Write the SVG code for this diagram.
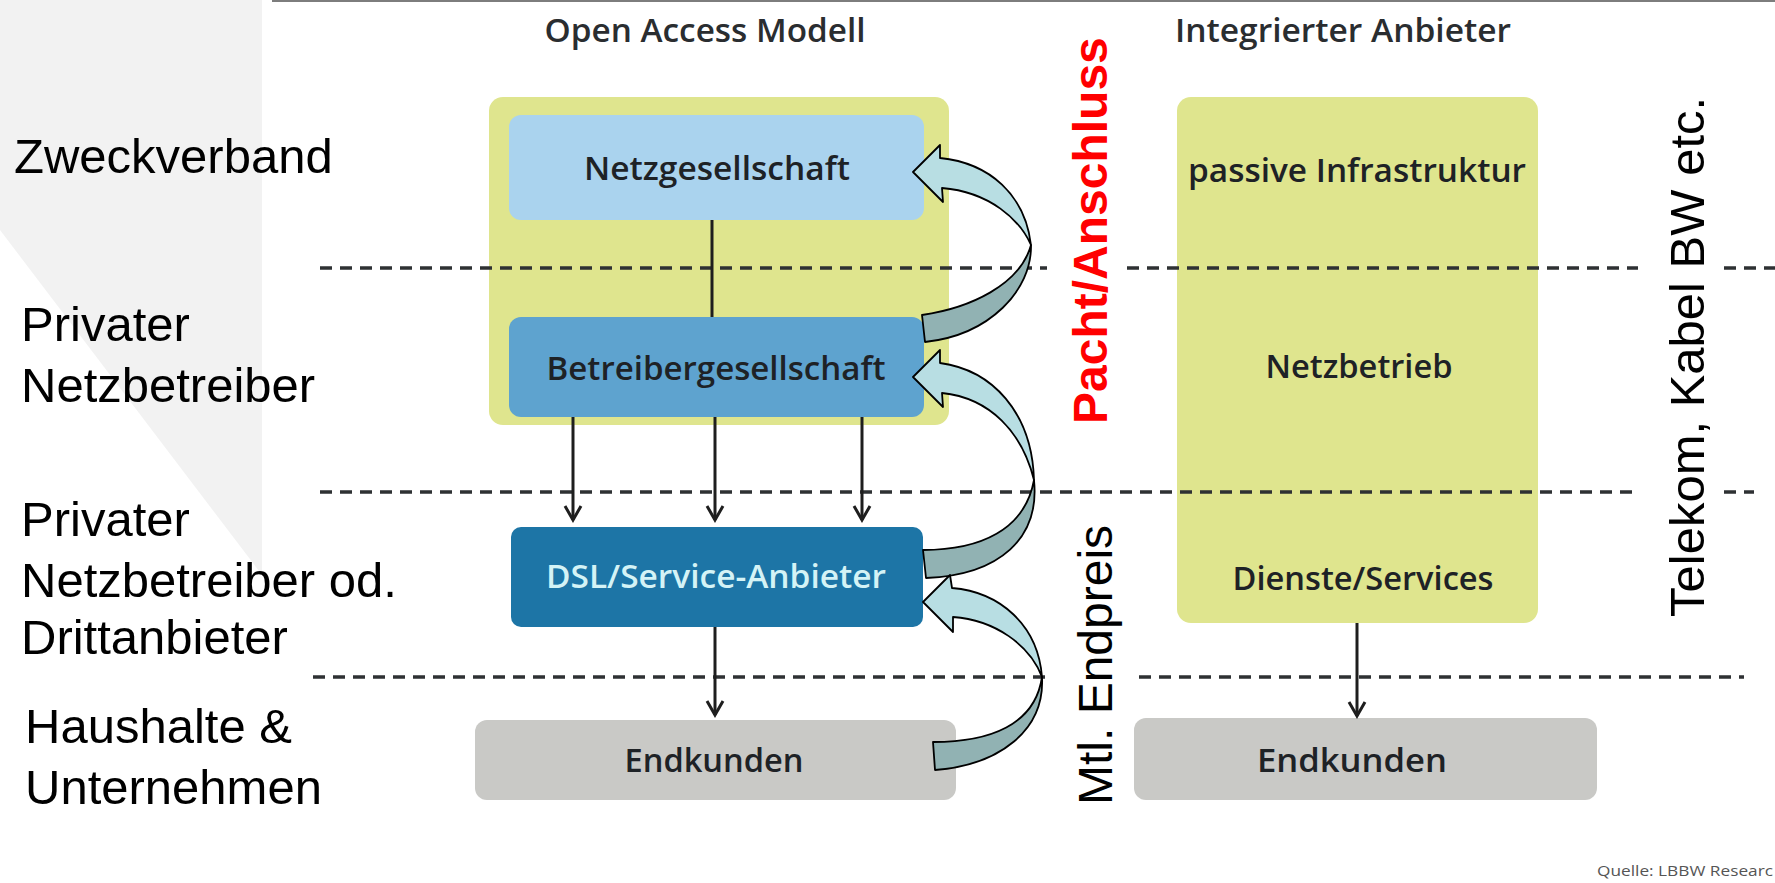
<svg xmlns="http://www.w3.org/2000/svg" width="1775" height="883" viewBox="0 0 1775 883">
<defs>
<style>
.lbl{font-family:"Liberation Sans",Arial,sans-serif;font-size:49px;fill:#000}
.box{font-family:"Open Sans","DejaVu Sans",sans-serif;font-weight:600;font-size:32px;fill:#1e2226;text-anchor:middle}
.hdr{font-family:"Open Sans","DejaVu Sans",sans-serif;font-weight:600;font-size:32px;fill:#2a2d30;text-anchor:middle}
.dash{stroke:#2e3133;stroke-width:3.5;stroke-dasharray:12 8;fill:none}
.conn{stroke:#1e1e1e;stroke-width:3;fill:none}
.light{fill:#b8dee3;stroke:#000;stroke-width:1.8;stroke-linejoin:round}
.dark{fill:#91b2b3;stroke:#000;stroke-width:1.8;stroke-linejoin:round}
</style>
<marker id="ah" viewBox="0 0 20 20" refX="17" refY="10" markerWidth="20" markerHeight="20" markerUnits="userSpaceOnUse" orient="auto">
<path d="M3,2 L17,10 L3,18" fill="none" stroke="#1e1e1e" stroke-width="3"/>
</marker>
</defs>
<rect x="0" y="0" width="1775" height="883" fill="#ffffff"/>
<polygon points="0,0 262,0 262,575 0,230" fill="#f2f2f2"/>
<line x1="272" y1="1" x2="1775" y2="1" stroke="#7d7d7d" stroke-width="2"/>

<g id="headers">
<text class="hdr" x="705" y="42" textLength="321" lengthAdjust="spacingAndGlyphs">Open Access Modell</text>
<text class="hdr" x="1343" y="42" textLength="336" lengthAdjust="spacingAndGlyphs">Integrierter Anbieter</text>
</g>

<g id="left-labels">
<text class="lbl" x="14" y="173">Zweckverband</text>
<text class="lbl" x="21" y="341">Privater</text>
<text class="lbl" x="21" y="402">Netzbetreiber</text>
<text class="lbl" x="21" y="536">Privater</text>
<text class="lbl" x="21" y="597">Netzbetreiber od.</text>
<text class="lbl" x="21" y="654">Drittanbieter</text>
<text class="lbl" x="25" y="743">Haushalte &amp;</text>
<text class="lbl" x="25" y="804">Unternehmen</text>
</g>

<g id="open-access-container">
<rect x="489" y="97" width="460" height="328" rx="14" fill="#dfe58e"/>
</g>
<g id="netzgesellschaft">
<rect x="509" y="115" width="415" height="105" rx="12" fill="#aad3ee"/>
<text class="box" x="717" y="180" textLength="266" lengthAdjust="spacingAndGlyphs">Netzgesellschaft</text>
</g>
<g id="betreibergesellschaft">
<rect x="509" y="317" width="415" height="100" rx="12" fill="#5ea3cf"/>
<text class="box" x="716" y="380" textLength="339" lengthAdjust="spacingAndGlyphs">Betreibergesellschaft</text>
</g>
<g id="dsl-service-anbieter">
<rect x="511" y="527" width="412" height="100" rx="10" fill="#1d75a6"/>
<text class="box" x="716" y="588" textLength="340" lengthAdjust="spacingAndGlyphs" style="fill:#d4f3f6">DSL/Service-Anbieter</text>
</g>
<g id="endkunden-left">
<rect x="475" y="720" width="481" height="80" rx="12" fill="#c9c9c6"/>
<text class="box" x="714" y="772" textLength="179" lengthAdjust="spacingAndGlyphs">Endkunden</text>
</g>

<g id="integrierter-anbieter">
<rect x="1177" y="97" width="361" height="526" rx="14" fill="#dfe58e"/>
<text class="box" x="1357" y="182" textLength="338" lengthAdjust="spacingAndGlyphs">passive Infrastruktur</text>
<text class="box" x="1359" y="378" textLength="187" lengthAdjust="spacingAndGlyphs">Netzbetrieb</text>
<text class="box" x="1363" y="590" textLength="261" lengthAdjust="spacingAndGlyphs">Dienste/Services</text>
</g>
<g id="endkunden-right">
<rect x="1134" y="718" width="463" height="82" rx="12" fill="#c9c9c6"/>
<text class="box" x="1352" y="772" textLength="190" lengthAdjust="spacingAndGlyphs">Endkunden</text>
</g>

<g id="separators">
<line class="dash" x1="320" y1="268" x2="1047" y2="268"/>
<line class="dash" x1="1127" y1="268" x2="1638" y2="268"/>
<line class="dash" x1="1724" y1="268" x2="1775" y2="268"/>
<line class="dash" x1="320" y1="492" x2="1638" y2="492"/>
<line class="dash" x1="1724" y1="492" x2="1754" y2="492"/>
<line class="dash" x1="313" y1="677" x2="1052" y2="677"/>
<line class="dash" x1="1139" y1="677" x2="1744" y2="677"/>
</g>

<g id="connectors">
<line class="conn" x1="712" y1="220" x2="712" y2="317"/>
<line class="conn" x1="573" y1="417" x2="573" y2="520" marker-end="url(#ah)"/>
<line class="conn" x1="715" y1="417" x2="715" y2="520" marker-end="url(#ah)"/>
<line class="conn" x1="862" y1="417" x2="862" y2="520" marker-end="url(#ah)"/>
<line class="conn" x1="715" y1="627" x2="715" y2="715" marker-end="url(#ah)"/>
<line class="conn" x1="1357" y1="623" x2="1357" y2="716" marker-end="url(#ah)"/>
<g id="curved-arrow-1">
<path class="dark" d="M1031,245 C1032,290 990,335 925,342 L922,315 C970,308 1020,285 1031,245 Z"/>
<path class="light" d="M913,172 L940,145 L940,158 C990,163 1025,195 1031,245 C1020,220 990,192 942,188 L943,202 Z"/>
</g>
<g id="curved-arrow-2">
<path class="dark" d="M1034,480 C1040,538 1000,575 926,578 L923,550 C980,550 1025,530 1034,480 Z"/>
<path class="light" d="M913,377 L940,350 L940,363 C992,370 1032,412 1034,480 C1022,432 990,398 942,393 L943,407 Z"/>
</g>
<g id="curved-arrow-3">
<path class="dark" d="M1042,677 C1045,730 1000,765 935,770 L933,742 C990,742 1035,725 1042,677 Z"/>
<path class="light" d="M923,602 L950,575 L952,588 C1000,592 1038,625 1042,677 C1030,645 995,620 953,617 L953,632 Z"/>
</g>
</g>

<g id="side-labels">
<text transform="translate(1107,424) rotate(-90)" font-family="Liberation Sans, Arial, sans-serif" font-weight="bold" font-size="48" fill="#ff0000">Pacht/Anschluss</text>
<text transform="translate(1112,805) rotate(-90)" font-family="Liberation Sans, Arial, sans-serif" font-size="48" fill="#000">Mtl. Endpreis</text>
<text transform="translate(1704,617) rotate(-90)" font-family="Liberation Sans, Arial, sans-serif" font-size="49" fill="#000">Telekom, Kabel BW etc.</text>
</g>

<g id="source">
<text x="1597" y="876" font-family="Open Sans, DejaVu Sans, sans-serif" font-size="14" fill="#555" textLength="176" lengthAdjust="spacingAndGlyphs">Quelle: LBBW Researc</text>
</g>
</svg>
